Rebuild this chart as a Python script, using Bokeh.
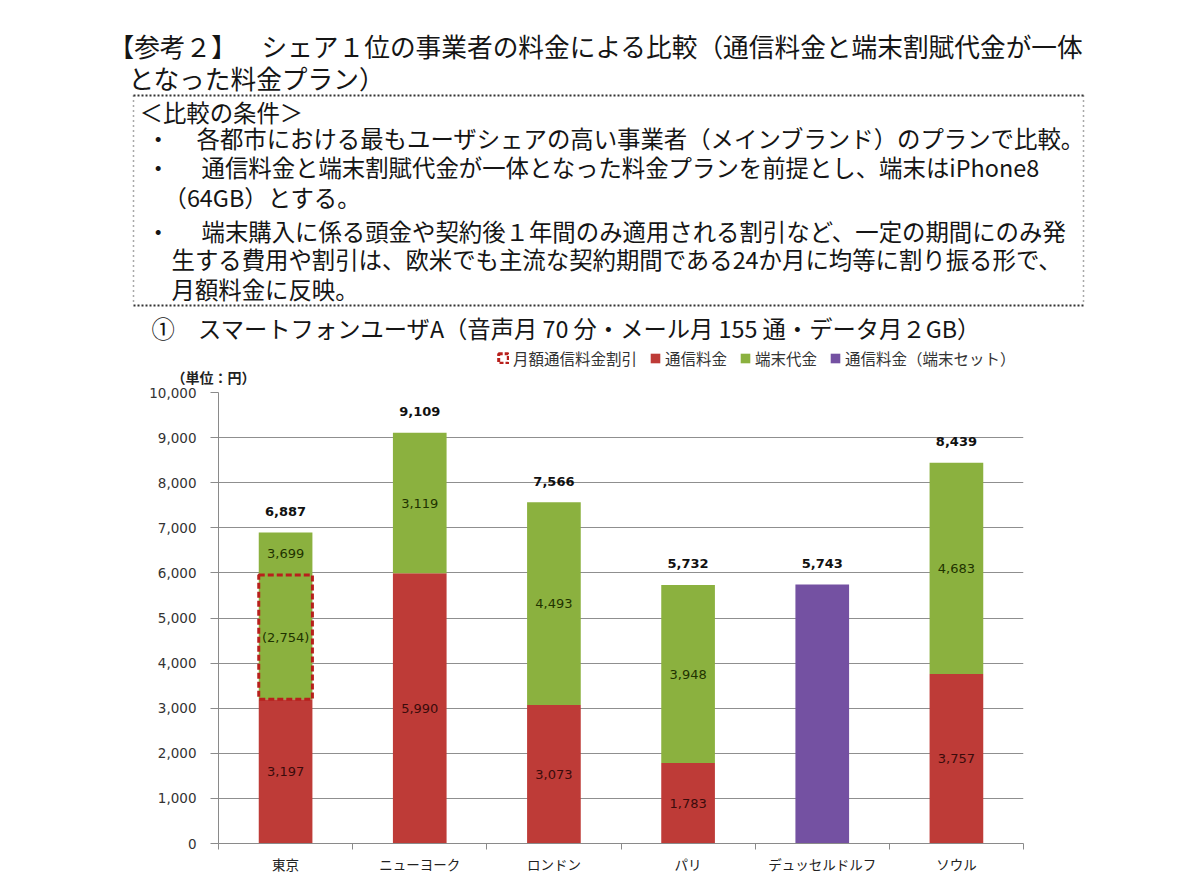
from bokeh.plotting import figure
from bokeh.models import (Range1d, ColumnDataSource, FixedTicker, NumeralTickFormatter,
                          Legend, LegendItem)
from bokeh.core.properties import value
from bokeh.embed import file_html
from bokeh.resources import INLINE

# ---------------- data ----------------
cities = ["東京", "ニューヨーク", "ロンドン", "パリ", "デュッセルドルフ", "ソウル"]
comm_fee = [3197, 5990, 3073, 1783, 0, 3757]          # 通信料金
device_fee = [3699, 3119, 4493, 3948, 0, 4683]        # 端末代金
set_fee = [0, 0, 0, 0, 5743, 0]                       # 通信料金（端末セット）
totals = [6887, 9109, 7566, 5732, 5743, 8439]
discount = [2754, 0, 0, 0, 0, 0]                      # 月額通信料金割引

title_head = "【参考２】"
title_lines = [
    "シェア１位の事業者の料金による比較（通信料金と端末割賦代金が一体",
    "となった料金プラン）",
]
cond_lines = [
    "＜比較の条件＞",
    "各都市における最もユーザシェアの高い事業者（メインブランド）のプランで比較。",
    "通信料金と端末割賦代金が一体となった料金プランを前提とし、端末はiPhone8",
    "（64GB）とする。",
    "端末購入に係る頭金や契約後１年間のみ適用される割引など、一定の期間にのみ発",
    "生する費用や割引は、欧米でも主流な契約期間である24か月に均等に割り振る形で、",
    "月額料金に反映。",
]
subtitle = "①　スマートフォンユーザA（音声月 70 分・メール月 155 通・データ月２GB）"
unit_text = "（単位：円）"
legend_labels = ["月額通信料金割引", "通信料金", "端末代金", "通信料金（端末セット）"]

RED = "#BE3B37"
GREEN = "#8BB13F"
PURPLE = "#7451A2"
BOXRED = "#B8201C"
JPF = "Noto Sans CJK JP"
NUMF = "DejaVu Sans"
JP = value(JPF)
NUM = value(NUMF)

W = 1181
H1 = 385
H2 = 888 - H1

# ---------------- header (titles, conditions, legend, unit) ----------------
h = figure(width=W, height=H1, x_range=Range1d(0, W), y_range=Range1d(H1, 0),
           output_backend="svg", toolbar_location=None, min_border=0)
h.axis.visible = False
h.grid.visible = False
h.outline_line_color = None

h.text(x=[108], y=[45], text=[title_head], text_font=JP,
       text_font_size="25.7px", text_baseline="middle", text_color="#151515")
h.text(x=[261, 128], y=[45, 77], text=title_lines, text_font=JP,
       text_font_size="25.7px", text_baseline="middle", text_color="#151515")

cx = [139, 196, 201, 163, 201, 171, 171]
cy = [111, 137, 166, 196, 230, 258, 288]
h.text(x=cx, y=cy, text=cond_lines, text_font=JP, text_font_size="23.4px",
       text_baseline="middle", text_color="#151515")
h.text(x=[146, 146, 146], y=[137, 166, 230], text=["・", "・", "・"], text_font=JP,
       text_font_size="23.4px", text_baseline="middle", text_color="#151515")
h.text(x=[151], y=[327], text=[subtitle], text_font=JP, text_font_size="23.3px",
       text_baseline="middle", text_color="#151515")

# dotted box
h.segment(x0=[133, 133], y0=[95, 305], x1=[1083, 1083], y1=[95, 305],
          line_color="#333333", line_width=2, line_dash="2 2")
h.segment(x0=[133, 1083], y0=[95, 95], x1=[133, 1083], y1=[305, 305],
          line_color="#555555", line_width=1.5, line_dash="1 4")

# unit label
h.text(x=[171], y=[376], text=[unit_text], text_font=JP, text_font_size="14px",
       text_font_style="bold", text_baseline="middle", text_color="#222222")

# legend swatches (same styles as the chart glyphs; placed outside the visible range)
off = dict(left=[-50], right=[-40], top=[-50], bottom=[-40])
lg_disc = h.quad(**off, fill_alpha=0, line_color=BOXRED, line_width=3, line_dash="4 2")
lg_comm = h.quad(**off, fill_color=RED, line_color=None)
lg_dev = h.quad(**off, fill_color=GREEN, line_color=None)
lg_set = h.quad(**off, fill_color=PURPLE, line_color=None)

legend = Legend(items=[
    LegendItem(label=legend_labels[0], renderers=[lg_disc]),
    LegendItem(label=legend_labels[1], renderers=[lg_comm]),
    LegendItem(label=legend_labels[2], renderers=[lg_dev]),
    LegendItem(label=legend_labels[3], renderers=[lg_set]),
], orientation="horizontal", location=(497, 16))
legend.label_text_font = JPF
legend.label_text_font_size = "15.5px"
legend.label_text_color = "#333333"
legend.glyph_width = 12
legend.glyph_height = 12
legend.label_standoff = 4
legend.spacing = 12
legend.padding = 0
legend.margin = 0
legend.border_line_color = None
legend.background_fill_alpha = 0
h.add_layout(legend, "center")

# ---------------- chart ----------------
n = len(cities)
xs = [i + 0.5 for i in range(n)]
src = ColumnDataSource(dict(x=xs, comm=comm_fee, device=device_fee, setf=set_fee))

p = figure(width=W, height=H2, x_range=Range1d(0, n), y_range=Range1d(0, 10000),
           output_backend="svg", toolbar_location=None,
           min_border_left=218, min_border_right=158, min_border_top=7, min_border_bottom=45)
p.outline_line_color = None
p.xgrid.visible = False
p.ygrid.grid_line_color = "#8f8f8f"
p.ygrid.grid_line_width = 1
p.yaxis.ticker = FixedTicker(ticks=list(range(0, 10001, 1000)))
p.yaxis.formatter = NumeralTickFormatter(format="0,0")
p.yaxis.axis_line_color = "#8a8a8a"
p.yaxis.major_tick_line_color = "#8a8a8a"
p.yaxis.major_tick_out = 8
p.yaxis.major_tick_in = 0
p.yaxis.minor_tick_line_color = None
p.yaxis.major_label_text_font = NUMF
p.yaxis.major_label_text_font_size = "13.5px"
p.yaxis.major_label_text_color = "#333333"
p.yaxis.major_label_standoff = 14

p.xaxis.ticker = FixedTicker(ticks=xs, minor_ticks=list(range(0, n + 1)))
p.xaxis.major_label_overrides = {x: c for x, c in zip(xs, cities)}
p.xaxis.axis_line_color = "#8a8a8a"
p.xaxis.major_tick_line_color = None
p.xaxis.minor_tick_line_color = "#8a8a8a"
p.xaxis.minor_tick_out = 6
p.xaxis.minor_tick_in = 0
p.xaxis.major_label_text_font = JPF
p.xaxis.major_label_text_font_size = "13.5px"
p.xaxis.major_label_text_color = "#222222"
p.xaxis.major_label_standoff = 4

bw = 0.4
rs = p.vbar_stack(["comm", "device"], x="x", width=bw, color=[RED, GREEN],
                  line_color=None, source=src)
rp = p.vbar(x="x", top="setf", width=bw, color=PURPLE, line_color=None, source=src)

# discount box
db = [i for i in range(n) if discount[i] > 0]
dsrc = ColumnDataSource(dict(
    left=[xs[i] - bw / 2 for i in db], right=[xs[i] + bw / 2 for i in db],
    bottom=[comm_fee[i] for i in db], top=[comm_fee[i] + discount[i] for i in db]))
rd = p.quad(left="left", right="right", bottom="bottom", top="top", source=dsrc,
            fill_alpha=0, line_color=BOXRED, line_width=3, line_dash="6 3")

def fmt(v):
    return f"{v:,}"

rx, ry, rt = [], [], []
gx, gy, gt = [], [], []
for i in range(n):
    if comm_fee[i] > 0:
        rx.append(xs[i]); ry.append(comm_fee[i] / 2); rt.append(fmt(comm_fee[i]))
    if device_fee[i] > 0:
        if discount[i] > 0:
            lo = comm_fee[i] + discount[i]
            gx.append(xs[i]); gy.append(comm_fee[i] + discount[i] / 2)
            gt.append(f"({discount[i]:,})")
        else:
            lo = comm_fee[i]
        gx.append(xs[i]); gy.append((lo + comm_fee[i] + device_fee[i]) / 2)
        gt.append(fmt(device_fee[i]))

p.text(x=rx, y=ry, text=rt, text_font=NUM, text_font_size="13px", text_align="center",
       text_baseline="middle", text_color="#3a0b0b")
p.text(x=gx, y=gy, text=gt, text_font=NUM, text_font_size="13px", text_align="center",
       text_baseline="middle", text_color="#1f3300")
p.text(x=xs, y=totals, text=[fmt(t) for t in totals], text_font=NUM, text_font_size="13px",
       text_align="center", text_baseline="middle", y_offset=-21, text_color="#111111",
       text_font_style="bold")

open("out.html", "w").write(file_html([h, p], INLINE))
